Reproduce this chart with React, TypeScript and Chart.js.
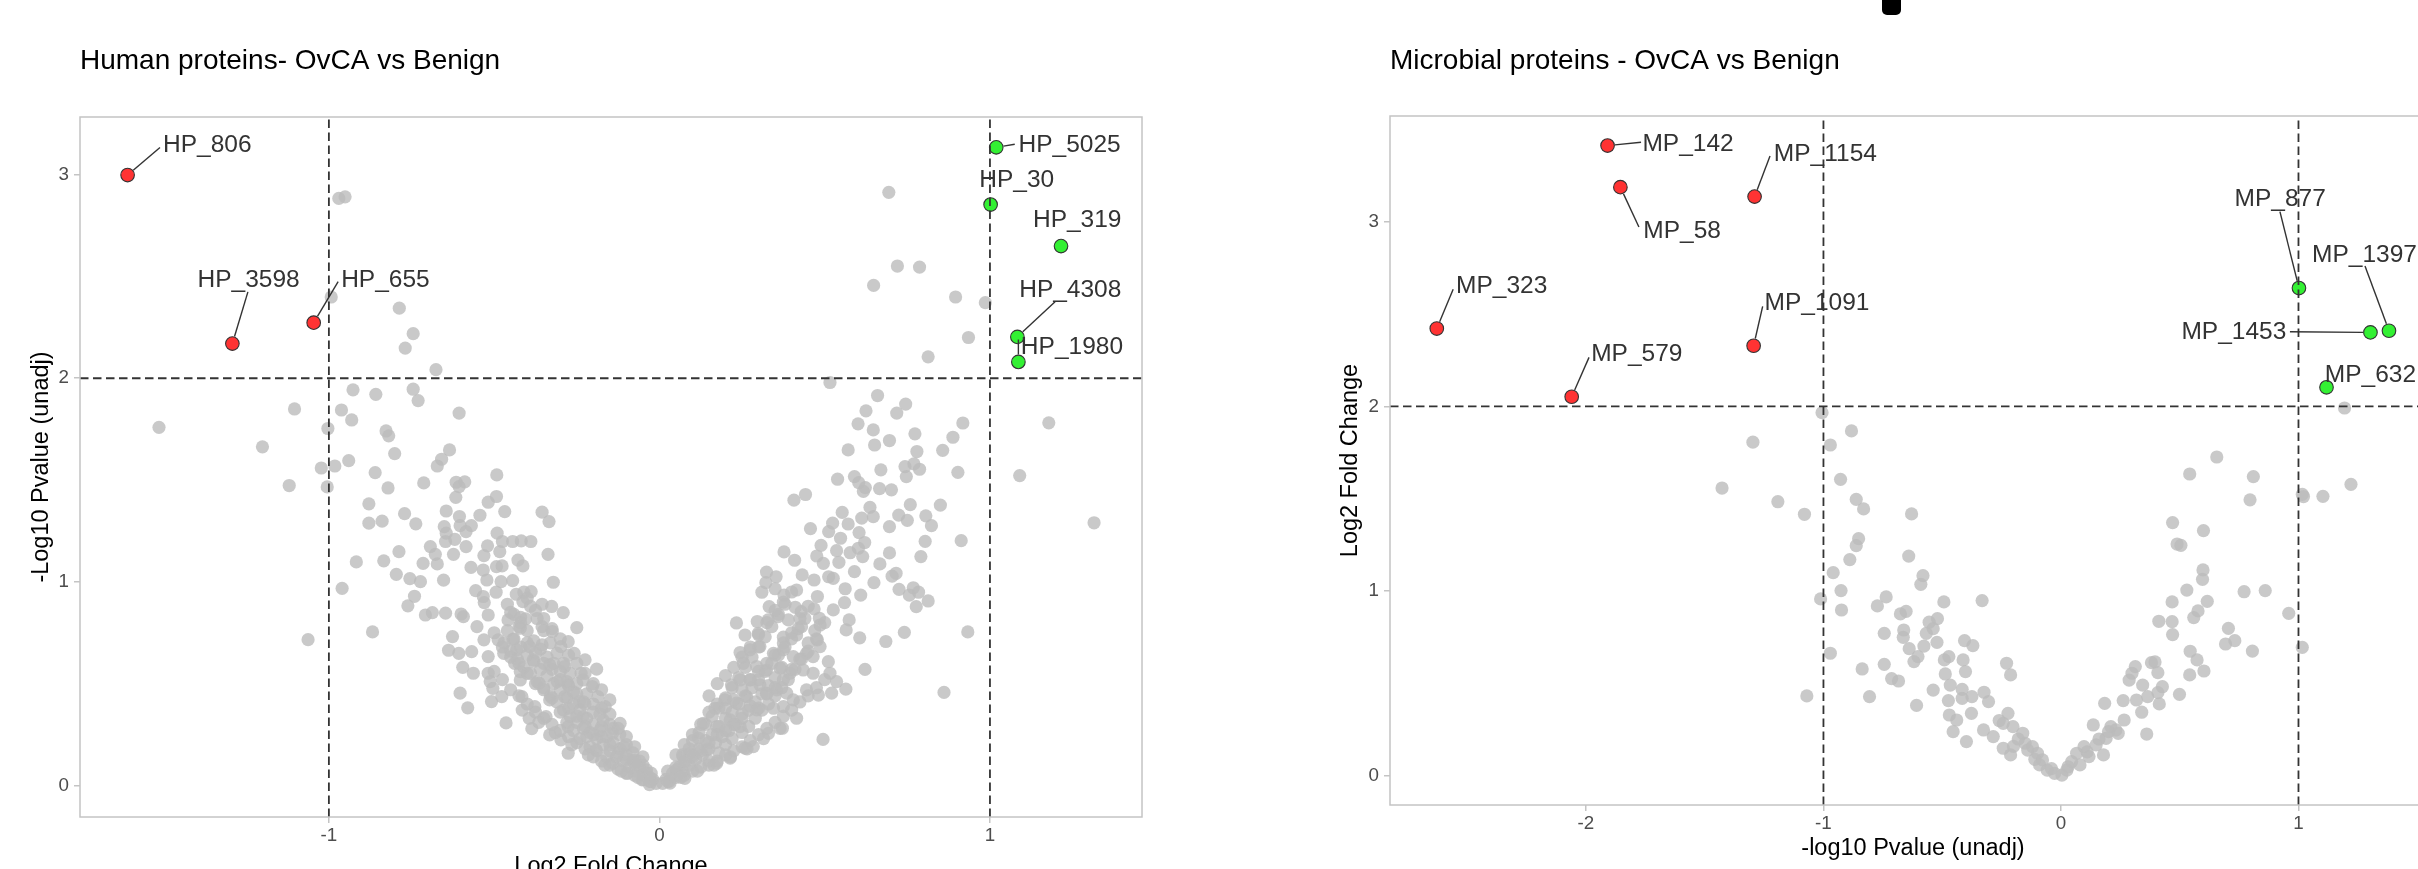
import React, { useEffect, useRef } from 'react';
import { Chart, registerables } from 'chart.js';

Chart.register(...registerables);

type Pt = [number, number];

// ---------------- Human proteins panel data ----------------
const humanXTicks = [-1, 0, 1];
const humanXTickLabels = ['-1', '0', '1'];
const humanYTicks = [0, 1, 2, 3];
const humanYTickLabels = ['0', '1', '2', '3'];
const humanXCut = [-1, 1];
const humanYCut = [2];

const humanDownNames = ['HP_806', 'HP_3598', 'HP_655'];
const humanDown: Pt[] = [[-1.609, 2.998], [-1.292, 2.17], [-1.046, 2.273]];
const humanUpNames = ['HP_5025', 'HP_30', 'HP_319', 'HP_4308', 'HP_1980'];
const humanUp: Pt[] = [[1.019, 3.134], [1.002, 2.853], [1.215, 2.649], [1.083, 2.203], [1.086, 2.08]];

const humanGreyOuter: Pt[] = [
  [-0.970, 2.883], [-0.951, 2.891], [-0.993, 2.399], [-0.787, 2.344], [-0.745, 2.219], [-0.769, 2.148], [-0.676, 2.042],
  [0.694, 2.913], [0.720, 2.551], [0.787, 2.546], [0.648, 2.456], [0.896, 2.399], [0.986, 2.371], [0.935, 2.2],
  [0.813, 2.105], [0.516, 1.979], [1.178, 1.781], [1.09, 1.522], [1.315, 1.29], [0.933, 0.754], [0.861, 0.457], [0.495, 0.226],
  [-1.514, 1.759], [-1.201, 1.663], [-1.12, 1.473], [-1.104, 1.849], [-1.063, 0.716], [-0.868, 0.754],
];

const humanGreyLeft: Pt[] = [
  [-0.927, 1.943], [-0.858, 1.921], [-0.745, 1.946], [-0.730, 1.890], [-0.962, 1.844], [-0.931, 1.795], [-1.003, 1.753],
  [-0.606, 1.829], [-0.827, 1.741], [-0.819, 1.717], [-0.801, 1.630], [-0.635, 1.648], [-0.659, 1.602], [-0.672, 1.569],
  [-0.940, 1.595], [-1.023, 1.559], [-0.982, 1.569], [-0.860, 1.536], [-0.713, 1.486], [-1.005, 1.466], [-0.821, 1.461],
  [-0.615, 1.489], [-0.589, 1.491], [-0.606, 1.468], [-0.492, 1.525], [-0.616, 1.415], [-0.493, 1.419], [-0.518, 1.391],
  [-0.879, 1.383], [-0.771, 1.335], [-0.645, 1.348], [-0.605, 1.321], [-0.543, 1.327], [-0.468, 1.345], [-0.355, 1.342],
  [-0.334, 1.296], [-0.879, 1.288], [-0.839, 1.298], [-0.737, 1.285], [-0.651, 1.271], [-0.603, 1.276], [-0.569, 1.276],
  [-0.645, 1.239], [-0.585, 1.247], [-0.491, 1.239], [-0.619, 1.209], [-0.475, 1.198], [-0.444, 1.198], [-0.418, 1.201],
  [-0.389, 1.198], [-0.647, 1.198], [-0.693, 1.173], [-0.585, 1.173], [-0.520, 1.177], [-0.678, 1.135], [-0.623, 1.135],
  [-0.531, 1.129], [-0.483, 1.148], [-0.337, 1.135], [-0.788, 1.148], [-0.917, 1.098], [-0.834, 1.103], [-0.715, 1.091],
  [-0.672, 1.088], [-0.428, 1.107], [-0.413, 1.078], [-0.570, 1.071], [-0.533, 1.058], [-0.493, 1.075], [-0.476, 1.078],
  [-0.796, 1.037], [-0.755, 1.016], [-0.723, 1.001], [-0.653, 1.008], [-0.522, 1.009], [-0.479, 1.001], [-0.444, 1.006],
  [-0.321, 0.998], [-0.960, 0.968], [-0.556, 0.957], [-0.494, 0.949], [-0.433, 0.939], [-0.410, 0.949], [-0.388, 0.952],
  [-0.741, 0.929], [-0.533, 0.928], [-0.761, 0.882], [-0.530, 0.898], [-0.413, 0.903], [-0.355, 0.890], [-0.326, 0.879],
  [-0.708, 0.837], [-0.687, 0.849], [-0.647, 0.846], [-0.600, 0.842], [-0.593, 0.829], [-0.518, 0.837], [-0.458, 0.813],
  [-0.420, 0.825], [-0.405, 0.818], [-0.291, 0.849], [-0.552, 0.780], [-0.626, 0.731], [-0.531, 0.715], [-0.488, 0.715],
  [-0.443, 0.718], [-0.421, 0.772], [-0.355, 0.780], [-0.324, 0.756], [-0.276, 0.706], [-0.250, 0.775], [-0.638, 0.664],
  [-0.607, 0.649], [-0.568, 0.657], [-0.518, 0.633], [-0.471, 0.649], [-0.432, 0.666], [-0.393, 0.682], [-0.355, 0.690],
  [-0.298, 0.682], [-0.258, 0.649], [-0.225, 0.617], [-0.595, 0.580], [-0.563, 0.551], [-0.518, 0.551], [-0.438, 0.600],
  [-0.421, 0.559], [-0.382, 0.617], [-0.332, 0.592], [-0.287, 0.584], [-0.237, 0.551], [-0.190, 0.571], [-0.512, 0.510],
  [-0.504, 0.477], [-0.421, 0.518], [-0.364, 0.502], [-0.309, 0.510], [-0.276, 0.494], [-0.231, 0.518], [-0.203, 0.486],
  [-0.603, 0.453], [-0.580, 0.381], [-0.508, 0.412], [-0.477, 0.436], [-0.416, 0.436], [-0.377, 0.387], [-0.332, 0.420],
  [-0.287, 0.436], [-0.242, 0.412], [-0.186, 0.436], [-0.164, 0.387], [-0.464, 0.307], [-0.394, 0.330], [-0.386, 0.279],
  [-0.343, 0.338], [-0.332, 0.248], [-0.298, 0.224], [-0.276, 0.158], [-0.276, 0.289], [-0.231, 0.338], [-0.220, 0.240],
  [-0.192, 0.175], [-0.175, 0.289], [-0.142, 0.256], [-0.142, 0.109], [-0.119, 0.305], [-0.108, 0.191], [-0.097, 0.060],
  [-0.074, 0.125], [-0.052, 0.027], [-0.030, 0.004],
];

const humanGreyRight: Pt[] = [
  [0.660, 1.915], [0.625, 1.840], [0.745, 1.873], [0.718, 1.829], [0.601, 1.776], [0.647, 1.746], [0.918, 1.780],
  [0.773, 1.727], [0.696, 1.694], [0.651, 1.672], [0.888, 1.710], [0.571, 1.648], [0.779, 1.640], [0.857, 1.646],
  [0.743, 1.566], [0.770, 1.579], [0.787, 1.553], [0.747, 1.517], [0.670, 1.550], [0.903, 1.538], [0.539, 1.504],
  [0.590, 1.517], [0.603, 1.487], [0.623, 1.463], [0.617, 1.444], [0.666, 1.458], [0.702, 1.452], [0.442, 1.429],
  [0.407, 1.401], [0.759, 1.379], [0.850, 1.377], [0.637, 1.366], [0.553, 1.341], [0.647, 1.320], [0.612, 1.313],
  [0.724, 1.328], [0.750, 1.302], [0.806, 1.324], [0.823, 1.276], [0.457, 1.261], [0.524, 1.288], [0.571, 1.284],
  [0.512, 1.247], [0.696, 1.271], [0.604, 1.242], [0.548, 1.214], [0.621, 1.193], [0.804, 1.199], [0.913, 1.202],
  [0.489, 1.179], [0.377, 1.147], [0.409, 1.106], [0.476, 1.127], [0.536, 1.153], [0.543, 1.096], [0.577, 1.143],
  [0.602, 1.165], [0.615, 1.124], [0.696, 1.142], [0.791, 1.124], [0.667, 1.088], [0.496, 1.091], [0.590, 1.050],
  [0.324, 1.048], [0.353, 1.025], [0.432, 1.034], [0.468, 1.009], [0.512, 1.025], [0.526, 1.017], [0.704, 1.028],
  [0.716, 1.042], [0.649, 0.996], [0.322, 0.996], [0.310, 0.949], [0.350, 0.966], [0.377, 0.935], [0.415, 0.960],
  [0.478, 0.928], [0.562, 0.966], [0.609, 0.935], [0.725, 0.963], [0.768, 0.971], [0.784, 0.949], [0.756, 0.935],
  [0.813, 0.906], [0.777, 0.878], [0.332, 0.878], [0.411, 0.875], [0.429, 0.854], [0.468, 0.867], [0.526, 0.862],
  [0.560, 0.898], [0.233, 0.798], [0.296, 0.805], [0.329, 0.813], [0.359, 0.829], [0.390, 0.813], [0.484, 0.821],
  [0.486, 0.788], [0.574, 0.813], [0.565, 0.764], [0.606, 0.725], [0.685, 0.707], [0.741, 0.752], [0.259, 0.739],
  [0.299, 0.747], [0.375, 0.728], [0.415, 0.739], [0.430, 0.780], [0.478, 0.715], [0.244, 0.653], [0.274, 0.666],
  [0.304, 0.682], [0.345, 0.649], [0.375, 0.666], [0.405, 0.633], [0.445, 0.649], [0.465, 0.633], [0.486, 0.682],
  [0.511, 0.608], [0.622, 0.570], [0.254, 0.600], [0.294, 0.584], [0.324, 0.567], [0.365, 0.576], [0.395, 0.551],
  [0.435, 0.567], [0.465, 0.551], [0.516, 0.551], [0.536, 0.510], [0.564, 0.473], [0.521, 0.453], [0.481, 0.444],
  [0.445, 0.469], [0.405, 0.420], [0.385, 0.453], [0.355, 0.469], [0.324, 0.453], [0.218, 0.494], [0.244, 0.518],
  [0.274, 0.518], [0.304, 0.494], [0.168, 0.379], [0.198, 0.420], [0.233, 0.404], [0.264, 0.436], [0.294, 0.371],
  [0.345, 0.379], [0.375, 0.387], [0.372, 0.281], [0.330, 0.256], [0.133, 0.305], [0.118, 0.232], [0.173, 0.289],
  [0.214, 0.322], [0.244, 0.289], [0.259, 0.183], [0.284, 0.191], [0.214, 0.134], [0.173, 0.109], [0.143, 0.175],
  [0.092, 0.158], [0.072, 0.142], [0.052, 0.076], [0.077, 0.035], [0.032, 0.011], [-0.039, 0.076],
];

const humanGreyCoreLeft: Pt[] = [
  [-0.02, 0.03], [-0.03, 0.02], [-0.04, 0.06], [-0.05, 0.05], [-0.06, 0.09], [-0.07, 0.07], [-0.08, 0.12], [-0.09, 0.09],
  [-0.10, 0.15], [-0.11, 0.12], [-0.12, 0.18], [-0.13, 0.14], [-0.14, 0.21], [-0.15, 0.17], [-0.16, 0.24], [-0.17, 0.20],
  [-0.18, 0.27], [-0.19, 0.23], [-0.20, 0.30], [-0.21, 0.26], [-0.22, 0.33], [-0.23, 0.28], [-0.24, 0.37], [-0.25, 0.31],
  [-0.26, 0.40], [-0.27, 0.34], [-0.28, 0.43], [-0.29, 0.37], [-0.30, 0.47], [-0.31, 0.41], [-0.32, 0.50], [-0.33, 0.44],
  [-0.34, 0.54], [-0.35, 0.47], [-0.36, 0.57], [-0.37, 0.51], [-0.38, 0.61], [-0.39, 0.55], [-0.40, 0.64], [-0.41, 0.58],
  [-0.42, 0.68], [-0.43, 0.62], [-0.44, 0.72], [-0.45, 0.66], [-0.46, 0.76], [-0.47, 0.70], [-0.12, 0.25], [-0.15, 0.30],
  [-0.18, 0.35], [-0.20, 0.40], [-0.22, 0.45], [-0.25, 0.50], [-0.27, 0.55], [-0.29, 0.60], [-0.31, 0.65], [-0.33, 0.70],
  [-0.35, 0.76], [-0.37, 0.82], [-0.39, 0.88], [-0.10, 0.20], [-0.08, 0.16], [-0.06, 0.12], [-0.14, 0.28], [-0.17, 0.32],
  [-0.23, 0.41], [-0.26, 0.46], [-0.28, 0.51], [-0.30, 0.56], [-0.32, 0.60], [-0.34, 0.63], [-0.36, 0.67], [-0.38, 0.71],
  [-0.40, 0.76], [-0.42, 0.80], [-0.44, 0.84], [-0.46, 0.89], [-0.16, 0.14], [-0.19, 0.17], [-0.21, 0.19], [-0.24, 0.23],
  [-0.26, 0.27], [-0.28, 0.31], [-0.01, 0.01], [-0.03, 0.04],
  [-0.025, 0.02], [-0.025, 0.06], [-0.05, 0.03], [-0.05, 0.10], [-0.05, 0.14], [-0.075, 0.05], [-0.075, 0.11], [-0.075, 0.19],
  [-0.10, 0.06], [-0.10, 0.13], [-0.10, 0.24], [-0.125, 0.08], [-0.125, 0.16], [-0.125, 0.28], [-0.15, 0.10], [-0.15, 0.20],
  [-0.15, 0.35], [-0.15, 0.42], [-0.175, 0.12], [-0.175, 0.24], [-0.175, 0.38], [-0.175, 0.47], [-0.20, 0.14], [-0.20, 0.25],
  [-0.20, 0.36], [-0.20, 0.50], [-0.225, 0.18], [-0.225, 0.29], [-0.225, 0.40], [-0.225, 0.55], [-0.25, 0.21], [-0.25, 0.34],
  [-0.25, 0.45], [-0.25, 0.60], [-0.275, 0.24], [-0.275, 0.38], [-0.275, 0.49], [-0.275, 0.64], [-0.30, 0.27], [-0.30, 0.36],
  [-0.30, 0.52], [-0.30, 0.72], [-0.325, 0.30], [-0.325, 0.43], [-0.325, 0.57], [-0.325, 0.77], [-0.35, 0.33], [-0.35, 0.48],
  [-0.35, 0.60], [-0.35, 0.82], [-0.375, 0.36], [-0.375, 0.50], [-0.375, 0.65], [-0.375, 0.86], [-0.40, 0.40], [-0.40, 0.55],
  [-0.40, 0.70], [-0.40, 0.92], [-0.425, 0.44], [-0.425, 0.60], [-0.425, 0.78], [-0.45, 0.47], [-0.45, 0.63], [-0.45, 0.85],
  [-0.475, 0.52], [-0.475, 0.68], [-0.50, 0.56], [-0.50, 0.75],
  [-0.065, 0.04], [-0.115, 0.07], [-0.165, 0.10], [-0.215, 0.15], [-0.265, 0.20], [-0.315, 0.26], [-0.365, 0.31], [-0.415, 0.37],
];

const humanGreyCoreRight: Pt[] = [
  [0.01, 0.01], [0.02, 0.03], [0.03, 0.02], [0.04, 0.06], [0.05, 0.05], [0.06, 0.09], [0.07, 0.07], [0.08, 0.12],
  [0.09, 0.10], [0.10, 0.15], [0.11, 0.13], [0.12, 0.18], [0.13, 0.15], [0.14, 0.22], [0.15, 0.18], [0.16, 0.25],
  [0.17, 0.21], [0.18, 0.29], [0.19, 0.24], [0.20, 0.33], [0.21, 0.27], [0.22, 0.36], [0.23, 0.30], [0.24, 0.40],
  [0.25, 0.33], [0.26, 0.44], [0.27, 0.37], [0.28, 0.48], [0.29, 0.41], [0.30, 0.52], [0.31, 0.45], [0.32, 0.56],
  [0.33, 0.49], [0.34, 0.60], [0.35, 0.53], [0.36, 0.64], [0.37, 0.58], [0.38, 0.68], [0.40, 0.72], [0.42, 0.77],
  [0.44, 0.82], [0.10, 0.22], [0.12, 0.26], [0.14, 0.30], [0.16, 0.34], [0.18, 0.38], [0.20, 0.43], [0.22, 0.48],
  [0.24, 0.53], [0.26, 0.58], [0.28, 0.63], [0.30, 0.68], [0.32, 0.73], [0.34, 0.78], [0.36, 0.84], [0.38, 0.89],
  [0.07, 0.15], [0.09, 0.18], [0.15, 0.12], [0.18, 0.16], [0.20, 0.20], [0.22, 0.23], [0.25, 0.26], [0.27, 0.29],
  [0.29, 0.33], [0.31, 0.37], [0.33, 0.40], [0.35, 0.44], [0.37, 0.48], [0.39, 0.52], [0.41, 0.57], [0.43, 0.62],
  [0.45, 0.70], [0.47, 0.76],
  [0.025, 0.02], [0.025, 0.07], [0.05, 0.04], [0.05, 0.09], [0.05, 0.15], [0.075, 0.05], [0.075, 0.12], [0.075, 0.20],
  [0.10, 0.07], [0.10, 0.14], [0.10, 0.25], [0.125, 0.09], [0.125, 0.17], [0.125, 0.30], [0.15, 0.10], [0.15, 0.21],
  [0.15, 0.36], [0.15, 0.44], [0.175, 0.12], [0.175, 0.25], [0.175, 0.40], [0.175, 0.50], [0.20, 0.15], [0.20, 0.27],
  [0.20, 0.38], [0.20, 0.54], [0.225, 0.17], [0.225, 0.30], [0.225, 0.42], [0.225, 0.58], [0.25, 0.19], [0.25, 0.35],
  [0.25, 0.47], [0.25, 0.63], [0.275, 0.22], [0.275, 0.39], [0.275, 0.52], [0.275, 0.68], [0.30, 0.25], [0.30, 0.38],
  [0.30, 0.56], [0.30, 0.74], [0.325, 0.28], [0.325, 0.45], [0.325, 0.60], [0.325, 0.80], [0.35, 0.31], [0.35, 0.48],
  [0.35, 0.64], [0.35, 0.86], [0.375, 0.34], [0.375, 0.52], [0.375, 0.70], [0.375, 0.90], [0.40, 0.37], [0.40, 0.57],
  [0.40, 0.75], [0.40, 0.95], [0.425, 0.41], [0.425, 0.62], [0.425, 0.82], [0.45, 0.44], [0.45, 0.66], [0.45, 0.88],
  [0.475, 0.48], [0.475, 0.72], [0.50, 0.52], [0.50, 0.80],
  [0.065, 0.04], [0.115, 0.07], [0.165, 0.10], [0.215, 0.14], [0.265, 0.18], [0.315, 0.23], [0.365, 0.28], [0.415, 0.33],
];

// ---------------- Microbial proteins panel data ----------------
const microXTicks = [-2, -1, 0, 1];
const microXTickLabels = ['-2', '-1', '0', '1'];
const microYTicks = [0, 1, 2, 3];
const microYTickLabels = ['0', '1', '2', '3'];
const microXCut = [-1, 1];
const microYCut = [2];

const microDownNames = ['MP_142', 'MP_58', 'MP_1154', 'MP_323', 'MP_1091', 'MP_579'];
const microDown: Pt[] = [[-1.909, 3.411], [-1.855, 3.186], [-1.29, 3.135], [-2.628, 2.421], [-1.294, 2.328], [-2.06, 2.052]];
const microUpNames = ['MP_877', 'MP_1453', 'MP_1397', 'MP_632'];
const microUp: Pt[] = [[1.002, 2.64], [1.303, 2.4], [1.381, 2.409], [1.118, 2.103]];

const microGreyLeft: Pt[] = [
  [-1.006, 1.966], [-0.882, 1.867], [-1.297, 1.806], [-0.971, 1.791], [-0.928, 1.605], [-1.427, 1.558], [-1.192, 1.484],
  [-1.080, 1.416], [-0.862, 1.497], [-0.831, 1.445], [-0.629, 1.418], [-0.852, 1.284], [-0.862, 1.246], [-0.889, 1.171],
  [-0.641, 1.190], [-0.959, 1.100], [-0.581, 1.084], [-0.590, 1.037], [-0.926, 1.003], [-1.012, 0.958], [-0.924, 0.898],
  [-0.736, 0.969], [-0.773, 0.920], [-0.493, 0.942], [-0.332, 0.949], [-0.676, 0.877], [-0.652, 0.891], [-0.520, 0.851],
  [-0.555, 0.832], [-0.538, 0.797], [-0.662, 0.790], [-0.744, 0.772], [-0.664, 0.750], [-0.639, 0.689], [-0.577, 0.703],
  [-0.567, 0.772], [-0.522, 0.723], [-0.971, 0.664], [-0.602, 0.646], [-0.619, 0.619], [-0.406, 0.732], [-0.371, 0.705],
  [-0.491, 0.628], [-0.472, 0.646], [-0.412, 0.628], [-0.837, 0.579], [-0.744, 0.604], [-0.713, 0.527], [-0.684, 0.514],
  [-0.487, 0.552], [-0.402, 0.565], [-0.229, 0.610], [-0.212, 0.547], [-0.538, 0.465], [-0.466, 0.492], [-0.416, 0.469],
  [-0.375, 0.429], [-0.324, 0.453], [-0.305, 0.402], [-1.070, 0.433], [-0.806, 0.429], [-0.608, 0.382], [-0.474, 0.408],
  [-0.416, 0.420], [-0.377, 0.339], [-0.470, 0.330], [-0.439, 0.303], [-0.454, 0.240], [-0.398, 0.186], [-0.326, 0.249],
  [-0.285, 0.213], [-0.223, 0.339], [-0.243, 0.285], [-0.202, 0.267], [-0.243, 0.150], [-0.212, 0.114], [-0.161, 0.231],
  [-0.151, 0.177], [-0.120, 0.159], [-0.099, 0.123], [-0.078, 0.087], [-0.058, 0.032], [-0.027, 0.014], [0.004, 0.005],
  [-0.180, 0.200], [-0.140, 0.140], [-0.110, 0.090], [-0.090, 0.060], [-0.040, 0.040], [-0.260, 0.300], [-0.200, 0.160],
];

const microGreyRight: Pt[] = [
  [0.656, 1.726], [0.542, 1.634], [0.810, 1.620], [0.796, 1.494], [0.470, 1.371], [0.600, 1.328], [0.489, 1.255],
  [0.505, 1.248], [0.598, 1.115], [0.596, 1.064], [0.530, 1.006], [0.468, 0.942], [0.616, 0.945], [0.577, 0.893],
  [0.559, 0.857], [0.412, 0.837], [0.468, 0.835], [0.470, 0.765], [0.771, 0.997], [0.860, 1.003], [0.959, 0.880],
  [0.705, 0.799], [0.693, 0.714], [0.732, 0.732], [0.806, 0.676], [1.016, 1.524], [1.021, 1.512], [1.103, 1.513],
  [1.221, 1.578], [1.194, 1.991], [1.016, 0.696], [0.544, 0.675], [0.573, 0.628], [0.602, 0.568], [0.542, 0.547],
  [0.499, 0.442], [0.396, 0.617], [0.381, 0.613], [0.408, 0.559], [0.313, 0.592], [0.299, 0.556], [0.287, 0.519],
  [0.344, 0.492], [0.427, 0.483], [0.408, 0.451], [0.414, 0.390], [0.340, 0.345], [0.361, 0.227], [0.365, 0.429],
  [0.318, 0.411], [0.262, 0.408], [0.184, 0.393], [0.266, 0.303], [0.241, 0.231], [0.210, 0.267], [0.136, 0.276],
  [0.190, 0.204], [0.148, 0.168], [0.097, 0.159], [0.066, 0.123], [0.045, 0.078], [0.025, 0.032], [0.179, 0.114],
  [0.118, 0.105], [0.231, 0.249], [0.080, 0.060], [0.110, 0.130], [0.160, 0.200], [0.200, 0.240], [0.030, 0.050],
];

// label placement (text centre and leader end, data units)
const humanLabelSpots = [
  { name: 'HP_806', tx: -1.368, ty: 3.142, sx: -1.511, sy: 3.133 },
  { name: 'HP_3598', tx: -1.243, ty: 2.483, sx: -1.245, sy: 2.424 },
  { name: 'HP_655', tx: -0.829, ty: 2.483, sx: -0.972, sy: 2.474 },
  { name: 'HP_5025', tx: 1.241, ty: 3.142, sx: 1.075, sy: 3.149 },
  { name: 'HP_30', tx: 1.081, ty: 2.970, sx: null, sy: null },
  { name: 'HP_319', tx: 1.264, ty: 2.774, sx: null, sy: null },
  { name: 'HP_4308', tx: 1.243, ty: 2.434, sx: 1.197, sy: 2.376 },
  { name: 'HP_1980', tx: 1.248, ty: 2.151, sx: 1.086, sy: 2.19 },
];
const microLabelSpots = [
  { name: 'MP_142', tx: -1.570, ty: 3.420, sx: -1.768, sy: 3.429 },
  { name: 'MP_58', tx: -1.595, ty: 2.946, sx: -1.777, sy: 2.970 },
  { name: 'MP_1154', tx: -0.992, ty: 3.366, sx: -1.225, sy: 3.354 },
  { name: 'MP_323', tx: -2.355, ty: 2.649, sx: -2.559, sy: 2.634 },
  { name: 'MP_1091', tx: -1.027, ty: 2.556, sx: -1.256, sy: 2.541 },
  { name: 'MP_579', tx: -1.786, ty: 2.280, sx: -1.987, sy: 2.265 },
  { name: 'MP_877', tx: 0.923, ty: 3.120, sx: 0.922, sy: 3.054 },
  { name: 'MP_1397', tx: 1.278, ty: 2.820, sx: 1.280, sy: 2.760 },
  { name: 'MP_1453', tx: 0.728, ty: 2.400, sx: 0.964, sy: 2.404 },
  { name: 'MP_632', tx: 1.303, ty: 2.169, sx: null, sy: null },
];

const FONT = '"Liberation Sans", Arial, Helvetica, sans-serif';
const GREY = 'rgba(188,188,188,0.8)';
const RED = '#FF3333';
const GREEN = '#33F033';
const PT_R = 6.6;
const HI_R = 6.8;

type Spec = {
  title: string; xTitle: string; yTitle: string;
  xMin: number; xMax: number; yMin: number; yMax: number;
  xTicks: number[]; xTickLabels: string[]; yTicks: number[]; yTickLabels: string[];
  xCut: number[]; yCut: number[];
  grey: Pt[]; down: Pt[]; downNames: string[]; up: Pt[]; upNames: string[];
  labels: { name: string; tx: number; ty: number; sx: number | null; sy: number | null }[];
  padTop: number; padRight: number; yAxisW: number; xAxisH: number; yTitlePad: number; xTitlePad: number;
};

function makeChart(canvas: HTMLCanvasElement, s: Spec) {
  const toXY = (arr: Pt[]) => arr.map(([x, y]) => ({ x, y }));
  const deco = {
    id: 'deco',
    afterDatasetsDraw(chart: any) {
      const { ctx, chartArea: a, scales } = chart;
      const xs = scales.x, ys = scales.y;
      ctx.save();
      // threshold lines
      ctx.strokeStyle = '#333333';
      ctx.lineWidth = 1.8;
      ctx.setLineDash([8.5, 4.5]);
      s.xCut.forEach((v) => {
        const px = xs.getPixelForValue(v);
        ctx.beginPath(); ctx.moveTo(px, a.bottom); ctx.lineTo(px, a.top); ctx.stroke();
      });
      s.yCut.forEach((v) => {
        const py = ys.getPixelForValue(v);
        ctx.beginPath(); ctx.moveTo(a.left, py); ctx.lineTo(a.right, py); ctx.stroke();
      });
      ctx.setLineDash([]);
      // panel border
      ctx.strokeStyle = '#C4C4C4';
      ctx.lineWidth = 1.5;
      ctx.strokeRect(a.left, a.top, a.right - a.left, a.bottom - a.top);
      // labels
      const names = [...s.downNames, ...s.upNames];
      const pts = [...s.down, ...s.up];
      ctx.font = `24.5px ${FONT}`;
      ctx.fillStyle = '#333333';
      ctx.strokeStyle = '#333333';
      ctx.lineWidth = 1.4;
      ctx.textAlign = 'center';
      ctx.textBaseline = 'middle';
      const rr = HI_R + 0.6;
      s.labels.forEach((l) => {
        const i = names.indexOf(l.name);
        if (i < 0) return;
        const px = xs.getPixelForValue(pts[i][0]);
        const py = ys.getPixelForValue(pts[i][1]);
        if (l.sx !== null && l.sy !== null) {
          const ex = xs.getPixelForValue(l.sx);
          const ey = ys.getPixelForValue(l.sy);
          const d = Math.hypot(ex - px, ey - py);
          if (d > rr) {
            const bx = px + ((ex - px) / d) * rr;
            const by = py + ((ey - py) / d) * rr;
            ctx.beginPath(); ctx.moveTo(bx, by); ctx.lineTo(ex, ey); ctx.stroke();
          }
        }
        ctx.fillText(l.name, xs.getPixelForValue(l.tx), ys.getPixelForValue(l.ty));
      });
      // panel title
      ctx.font = `28px ${FONT}`;
      ctx.fillStyle = '#000000';
      ctx.textAlign = 'left';
      ctx.textBaseline = 'alphabetic';
      ctx.fillText(s.title, a.left, 69);
      ctx.restore();
    },
  };

  return new Chart(canvas, {
    type: 'scatter',
    data: {
      datasets: [
        { data: toXY(s.grey), pointRadius: PT_R, pointHoverRadius: PT_R, pointBackgroundColor: GREY, pointBorderWidth: 0, pointBorderColor: 'rgba(0,0,0,0)' },
        { data: toXY(s.down), pointRadius: HI_R, pointHoverRadius: HI_R, pointBackgroundColor: RED, pointBorderColor: '#333333', pointBorderWidth: 1.1 },
        { data: toXY(s.up), pointRadius: HI_R, pointHoverRadius: HI_R, pointBackgroundColor: GREEN, pointBorderColor: '#333333', pointBorderWidth: 1.1 },
      ],
    },
    options: {
      animation: false,
      responsive: false,
      events: [],
      layout: { padding: { top: s.padTop, right: s.padRight, left: 0, bottom: 0 } },
      plugins: { legend: { display: false }, tooltip: { enabled: false }, title: { display: false } },
      scales: {
        x: {
          type: 'linear', min: s.xMin, max: s.xMax,
          afterFit: (sc: any) => { sc.height = s.xAxisH; },
          afterBuildTicks: (sc: any) => { sc.ticks = s.xTicks.map((v) => ({ value: v })); },
          ticks: {
            autoSkip: false, maxRotation: 0, padding: 2, color: '#4D4D4D',
            font: { family: FONT, size: 18.8 },
            callback: (_v: any, i: number) => s.xTickLabels[i],
          },
          grid: { display: true, drawOnChartArea: false, drawTicks: true, tickLength: 6, color: '#C4C4C4', lineWidth: 1.5 },
          border: { display: false },
          title: { display: true, text: s.xTitle, color: '#000000', font: { family: FONT, size: 23.5 }, padding: { top: 0, bottom: s.xTitlePad } },
        },
        y: {
          type: 'linear', min: s.yMin, max: s.yMax,
          afterFit: (sc: any) => { sc.width = s.yAxisW; },
          afterBuildTicks: (sc: any) => { sc.ticks = s.yTicks.map((v) => ({ value: v })); },
          ticks: {
            autoSkip: false, padding: 5, color: '#4D4D4D',
            font: { family: FONT, size: 18.8 },
            callback: (_v: any, i: number) => s.yTickLabels[i],
          },
          grid: { display: true, drawOnChartArea: false, drawTicks: true, tickLength: 6, color: '#C4C4C4', lineWidth: 1.5 },
          border: { display: false },
          title: { display: true, text: s.yTitle, color: '#000000', font: { family: FONT, size: 23.5 }, padding: { top: s.yTitlePad, bottom: 0 } },
        },
      },
    },
    plugins: [deco],
  } as any);
}

const humanSpec: Spec = {
  title: 'Human proteins- OvCA vs Benign', xTitle: 'Log2 Fold Change', yTitle: '-Log10 Pvalue (unadj)',
  xMin: -1.753, xMax: 1.460, yMin: -0.155, yMax: 3.283,
  xTicks: humanXTicks, xTickLabels: humanXTickLabels, yTicks: humanYTicks, yTickLabels: humanYTickLabels,
  xCut: humanXCut, yCut: humanYCut,
  grey: [...humanGreyOuter, ...humanGreyLeft, ...humanGreyRight, ...humanGreyCoreLeft, ...humanGreyCoreRight],
  down: humanDown, downNames: humanDownNames, up: humanUp, upNames: humanUpNames,
  labels: humanLabelSpots,
  padTop: 117, padRight: 58, yAxisW: 80, xAxisH: 83, yTitlePad: 27.9, xTitlePad: 19.2,
};

const microSpec: Spec = {
  title: 'Microbial proteins - OvCA vs Benign', xTitle: '-log10 Pvalue (unadj)', yTitle: 'Log2 Fold Change',
  xMin: -2.825, xMax: 1.579, yMin: -0.157, yMax: 3.571,
  xTicks: microXTicks, xTickLabels: microXTickLabels, yTicks: microYTicks, yTickLabels: microYTickLabels,
  xCut: microXCut, yCut: microYCut,
  grey: [...microGreyLeft, ...microGreyRight],
  down: microDown, downNames: microDownNames, up: microUp, upNames: microUpNames,
  labels: microLabelSpots,
  padTop: 116, padRight: 64, yAxisW: 140, xAxisH: 95, yTitlePad: 86.9, xTitlePad: 36.9,
};

export default function App() {
  const leftRef = useRef<HTMLCanvasElement>(null);
  const rightRef = useRef<HTMLCanvasElement>(null);

  useEffect(() => {
    const c1 = leftRef.current ? makeChart(leftRef.current, humanSpec) : null;
    const c2 = rightRef.current ? makeChart(rightRef.current, microSpec) : null;
    return () => { c1?.destroy(); c2?.destroy(); };
  }, []);

  return (
    <div style={{ position: 'fixed', left: 0, top: 0, width: 2418, height: 869, overflow: 'hidden', background: '#ffffff' }}>
      <canvas ref={leftRef} width={1200} height={900} style={{ position: 'absolute', left: 0, top: 0, width: 1200, height: 900 }} />
      <canvas ref={rightRef} width={1250} height={900} style={{ position: 'absolute', left: 1250, top: 0, width: 1250, height: 900 }} />
      <div style={{ position: 'absolute', left: 1882, top: 0, width: 19, height: 15, background: '#000000', borderRadius: '0 0 5px 5px' }} />
    </div>
  );
}
